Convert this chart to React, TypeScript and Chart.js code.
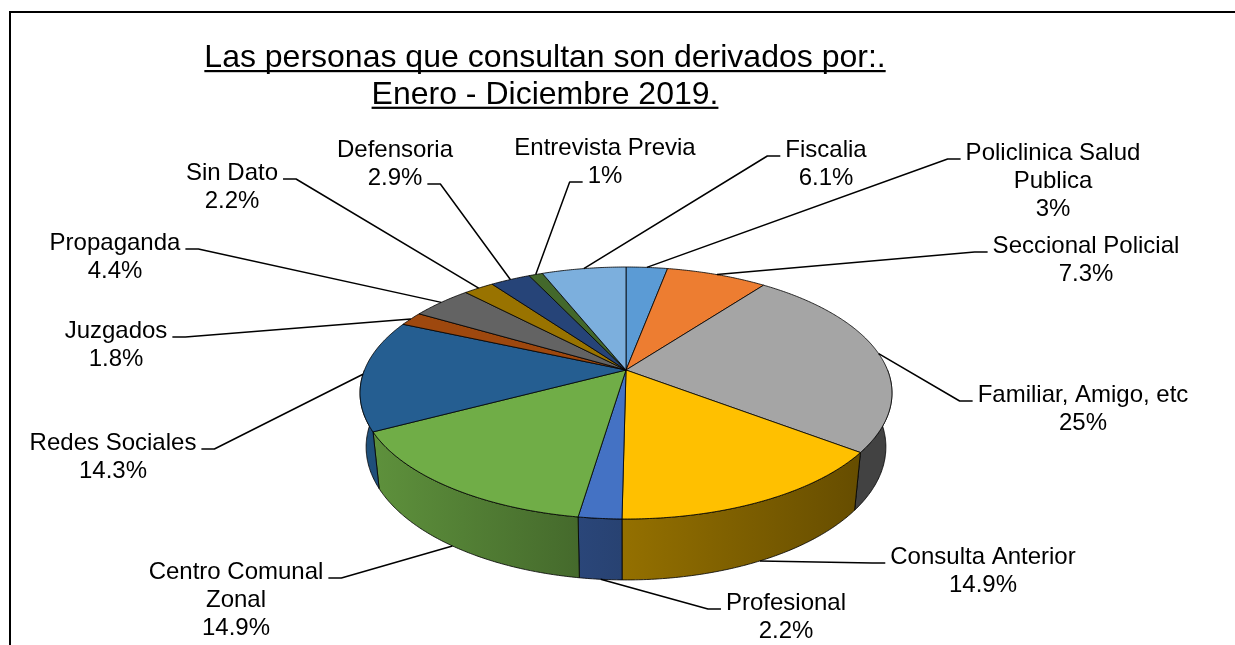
import React, { useEffect, useRef } from "react";
import { Chart, registerables } from "chart.js";

Chart.register(...registerables);

// ---------- data ----------
const categories = [
  "Policlinica Salud Publica",
  "Seccional Policial",
  "Familiar, Amigo, etc",
  "Consulta Anterior",
  "Profesional",
  "Centro Comunal Zonal",
  "Redes Sociales",
  "Juzgados",
  "Propaganda",
  "Sin Dato",
  "Defensoria",
  "Entrevista Previa",
  "Fiscalia",
];
const values = [3, 7.3, 25, 14.9, 2.2, 14.9, 14.3, 1.8, 4.4, 2.2, 2.9, 1, 6.1];
const colors = [
  "#5B9BD5",
  "#ED7D31",
  "#A5A5A5",
  "#FFC000",
  "#4472C4",
  "#70AD47",
  "#255E91",
  "#9E480E",
  "#636363",
  "#997300",
  "#264478",
  "#43682B",
  "#7CAFDD",
];
const titleLines = [
  "Las personas que consultan son derivados por:.",
  "Enero - Diciembre 2019.",
];

// ---------- layout (positions/styles only) ----------
// text block centre x, first line centre y, side of the connector, line it attaches to
const labelLayout = [
  { x: 1053, y: 153, side: "L", line: 0 },
  { x: 1086, y: 246, side: "L", line: 0 },
  { x: 1083, y: 395, side: "L", line: 0 },
  { x: 983, y: 557, side: "L", line: 0 },
  { x: 786, y: 603, side: "L", line: 0 },
  { x: 236, y: 572, side: "R", line: 0 },
  { x: 113, y: 443, side: "R", line: 0 },
  { x: 116, y: 331, side: "R", line: 0 },
  { x: 115, y: 243, side: "R", line: 0 },
  { x: 232, y: 173, side: "R", line: 0 },
  { x: 395, y: 150, side: "R", line: 1 },
  { x: 605, y: 148, side: "L", line: 1 },
  { x: 826, y: 150, side: "L", line: 0 },
];
const FONT = "'Liberation Sans', Arial, Helvetica, sans-serif";
const LABEL_SIZE = 24;
const LABEL_LH = 28;
const WRAP_W = 230;
const CAM_DIST = 4.848; // camera distance in pie radii
const TILT = (27.76 * Math.PI) / 180; // elevation
const DEPTH = 0.2358; // pie thickness in radii

function shade(hex: string, f: number) {
  const n = parseInt(hex.slice(1), 16);
  const r = Math.round(((n >> 16) & 255) * f);
  const g = Math.round(((n >> 8) & 255) * f);
  const b = Math.round((n & 255) * f);
  return `rgb(${r},${g},${b})`;
}
function sideLight(a: number) {
  const deg = (a * 180) / Math.PI;
  const v = 0.37 + ((deg - 40) / 110) * 0.46;
  return Math.max(0.4, Math.min(0.85, v));
}
function wrap(ctx: CanvasRenderingContext2D, text: string, maxW: number) {
  const words = text.split(" ");
  const out: string[] = [];
  let cur = "";
  for (const w of words) {
    const t = cur ? cur + " " + w : w;
    if (ctx.measureText(t).width > maxW && cur) {
      out.push(cur);
      cur = w;
    } else cur = t;
  }
  if (cur) out.push(cur);
  return out;
}

const pie3d = {
  id: "pie3d",
  beforeDraw(chart: any) {
    const ctx = chart.ctx as CanvasRenderingContext2D;
    ctx.save();
    ctx.fillStyle = "#ffffff";
    ctx.fillRect(0, 0, chart.width, chart.height);
    // frame
    ctx.fillStyle = "#000";
    ctx.fillRect(9, 11, chart.width, 2);
    ctx.fillRect(9, 11, 2, chart.height);
    // title
    ctx.font = `32px ${FONT}`;
    ctx.textAlign = "center";
    ctx.textBaseline = "alphabetic";
    const tx = 545;
    titleLines.forEach((t, i) => {
      const by = 67 + i * 36.7;
      ctx.fillText(t, tx, by);
      const w = ctx.measureText(t).width;
      ctx.fillRect(tx - w / 2, by + 3, w, 2.2);
    });
    ctx.restore();
  },
  beforeDatasetsDraw(chart: any) {
    const ctx = chart.ctx as CanvasRenderingContext2D;
    const meta = chart.getDatasetMeta(0);
    const arcs = meta.data as any[];
    if (!arcs.length) return false;
    const cx = arcs[0].x;
    const cy = arcs[0].y;
    const R = arcs[0].outerRadius;
    const s = Math.sin(TILT);
    const c = Math.cos(TILT);
    const k = R * CAM_DIST;
    const proj = (a: number, r: number, h: number) => {
      const u = r * Math.cos(a);
      const w = r * Math.sin(a);
      const yc = -w * s + h * c;
      const d = CAM_DIST - w * c - h * s;
      return [cx + (k * u) / d, cy - (k * yc) / d];
    };
    const STEP = Math.PI / 360;
    ctx.save();
    ctx.lineJoin = "round";
    // sides
    arcs.forEach((arc, i) => {
      const shifts = [0, 2 * Math.PI, -2 * Math.PI];
      for (const sh of shifts) {
        const lo = Math.max(arc.startAngle, 0 + sh);
        const hi = Math.min(arc.endAngle, Math.PI + sh);
        if (hi <= lo) continue;
        const top: number[][] = [];
        const n = Math.max(2, Math.ceil((hi - lo) / STEP));
        for (let j = 0; j <= n; j++) top.push(proj(lo + ((hi - lo) * j) / n, 1, 0));
        const bot: number[][] = [];
        for (let j = n; j >= 0; j--) bot.push(proj(lo + ((hi - lo) * j) / n, 1, -DEPTH));
        ctx.beginPath();
        ctx.moveTo(top[0][0], top[0][1]);
        for (const p of top) ctx.lineTo(p[0], p[1]);
        for (const p of bot) ctx.lineTo(p[0], p[1]);
        ctx.closePath();
        const x0 = top[0][0];
        const x1 = top[top.length - 1][0];
        const g = ctx.createLinearGradient(x0, 0, x1 === x0 ? x0 + 1 : x1, 0);
        g.addColorStop(0, shade(colors[i], sideLight(lo - sh)));
        g.addColorStop(1, shade(colors[i], sideLight(hi - sh)));
        ctx.fillStyle = g;
        ctx.fill();
        ctx.strokeStyle = "rgba(0,0,0,0.8)";
        ctx.lineWidth = 1;
        ctx.stroke();
      }
    });
    // top face
    const apex = proj(0, 0, 0);
    arcs.forEach((arc, i) => {
      const a0 = arc.startAngle;
      const a1 = arc.endAngle;
      const n = Math.max(2, Math.ceil((a1 - a0) / STEP));
      ctx.beginPath();
      ctx.moveTo(apex[0], apex[1]);
      for (let j = 0; j <= n; j++) {
        const p = proj(a0 + ((a1 - a0) * j) / n, 1, 0);
        ctx.lineTo(p[0], p[1]);
      }
      ctx.closePath();
      ctx.fillStyle = colors[i];
      ctx.fill();
      ctx.strokeStyle = "rgba(0,0,0,0.8)";
      ctx.lineWidth = 1;
      ctx.stroke();
    });
    // labels + leader lines
    ctx.font = `${LABEL_SIZE}px ${FONT}`;
    ctx.textAlign = "center";
    ctx.textBaseline = "middle";
    arcs.forEach((arc, i) => {
      const L = labelLayout[i];
      const lines = [...wrap(ctx, categories[i], WRAP_W), `${values[i]}%`];
      ctx.fillStyle = "#000";
      lines.forEach((t, j) => ctx.fillText(t, L.x, L.y + j * LABEL_LH));
      const am = (arc.startAngle + arc.endAngle) / 2;
      const start = Math.sin(am) > 0.5 ? proj(am, 1, -DEPTH) : proj(am, 1, 0);
      const w = ctx.measureText(lines[L.line]).width;
      const segY = L.y + L.line * LABEL_LH + 6;
      const segEnd = L.side === "L" ? L.x - w / 2 - 5 : L.x + w / 2 + 5;
      const elbow = L.side === "L" ? segEnd - 13 : segEnd + 13;
      ctx.beginPath();
      ctx.moveTo(start[0], start[1]);
      ctx.lineTo(elbow, segY);
      ctx.lineTo(segEnd, segY);
      ctx.strokeStyle = "#000";
      ctx.lineWidth = 1.5;
      ctx.stroke();
    });
    ctx.restore();
    return false;
  },
};

export default function App() {
  const ref = useRef<HTMLCanvasElement | null>(null);
  useEffect(() => {
    if (!ref.current) return;
    const chart = new Chart(ref.current, {
      type: "pie",
      data: {
        labels: categories,
        datasets: [
          {
            data: values,
            backgroundColor: colors,
            borderWidth: 0,
            hoverOffset: 0,
          },
        ],
      },
      options: {
        animation: false,
        responsive: true,
        maintainAspectRatio: false,
        devicePixelRatio: 1,
        layout: { padding: { left: 117, right: 100, top: 108.5, bottom: 13.5 } },
        plugins: {
          legend: { display: false },
          tooltip: { enabled: false },
          title: { display: false },
        },
        events: [],
      },
      plugins: [pie3d],
    } as any);
    return () => chart.destroy();
  }, []);
  return (
    <div style={{ position: "absolute", left: 0, top: 0, width: 1235, height: 645, background: "#fff" }}>
      <canvas ref={ref} style={{ display: "block" }} />
    </div>
  );
}
